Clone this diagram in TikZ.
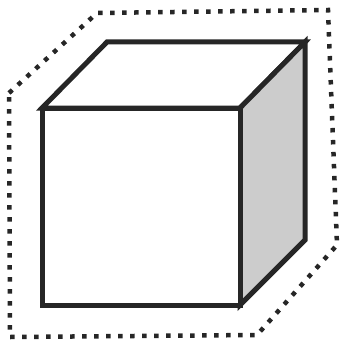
\documentclass[tikz,border=0pt]{standalone}
\usepackage{tikz}
\usepackage{xcolor}
\definecolor{ink}{HTML}{262626}
\definecolor{shade}{HTML}{CCCCCC}

\begin{document}
\begin{tikzpicture}[
    x=1pt, y=-1pt,
    edge/.style={draw=ink, line width=5pt, line join=miter},
    outline/.style={draw=ink, line width=4.5pt, dash pattern=on 4.5pt off 7.5pt}
]
    \useasboundingbox (0,0) rectangle (340,342);

    % cube corners
    \coordinate (ftl) at (42,108);
    \coordinate (ftr) at (240,108);
    \coordinate (fbl) at (42,305);
    \coordinate (fbr) at (240,305);
    \coordinate (btl) at (107,42);
    \coordinate (btr) at (305,42);
    \coordinate (bbr) at (305,240);

    % dotted hull
    \draw[outline] (9,93) -- (97,13) -- (328,10) -- (337,245) -- (257,335) -- (10,337) -- cycle;

    % faces
    \draw[edge, fill=white] (ftl) -- (btl) -- (btr) -- (ftr) -- cycle;
    \draw[edge, fill=shade] (ftr) -- (btr) -- (bbr) -- (fbr) -- cycle;
    \draw[edge, fill=white] (ftl) rectangle (fbr);
\end{tikzpicture}
\end{document}
